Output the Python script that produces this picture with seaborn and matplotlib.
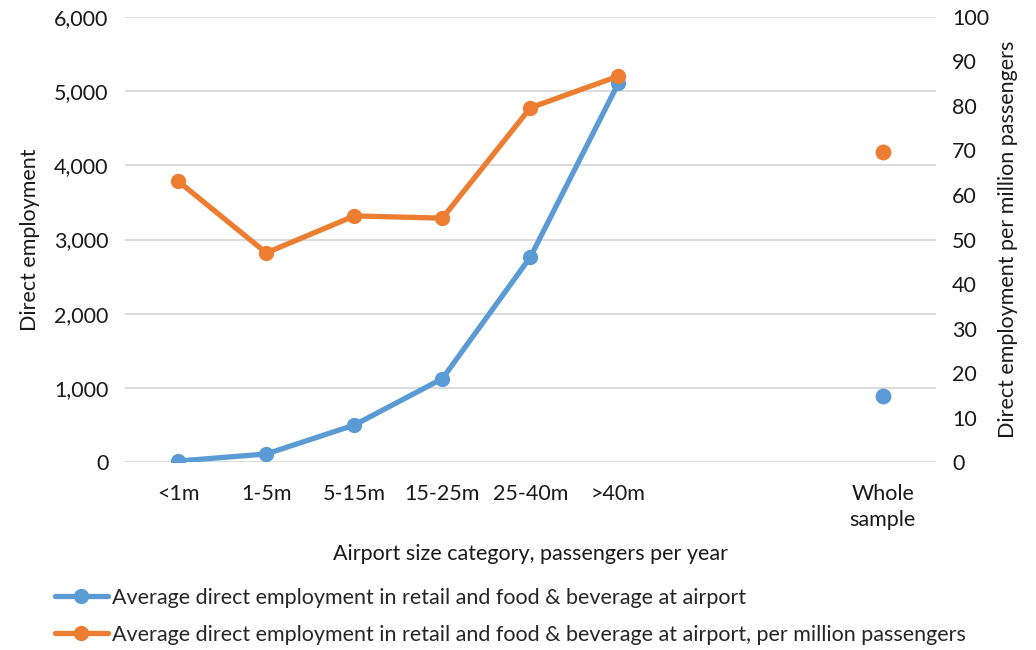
import matplotlib
matplotlib.use("Agg")
import matplotlib.pyplot as plt
import seaborn as sns
import pandas as pd
from matplotlib.lines import Line2D
from matplotlib.ticker import FuncFormatter

# data
categories = ["<1m", "1-5m", "5-15m", "15-25m", "25-40m", ">40m", "", "", "Whole\nsample"]
size_groups = ["<1m", "1-5m", "5-15m", "15-25m", "25-40m", ">40m"]
employment = [15, 110, 500, 1125, 2765, 5110]
per_million = [63.1, 47.0, 55.3, 54.8, 79.6, 86.7]
whole_employment = [885]
whole_per_million = [69.7]

blue = "#5B9BD5"
orange = "#ED7D31"
txt = "#1a1a1a"

sns.set_theme(style="white")
plt.rcParams["font.family"] = ["Lato", "DejaVu Sans"]
fs = 15.5

pos = {c: i for i, c in enumerate(categories)}
df = pd.DataFrame({"x": [pos[c] for c in size_groups],
                   "emp": employment, "pm": per_million})
whole = pd.DataFrame({"x": [pos["Whole\nsample"]],
                      "emp": whole_employment, "pm": whole_per_million})

fig = plt.figure(figsize=(10.36, 6.5), dpi=100)
ax = fig.add_axes([0.121, 0.289, 0.782, 0.685])
ax2 = ax.twinx()

sns.lineplot(data=df, x="x", y="emp", ax=ax, color=blue, lw=3.8,
             marker="o", markersize=11, markeredgewidth=0)
sns.scatterplot(data=whole, x="x", y="emp", ax=ax, color=blue, s=130, linewidth=0)
sns.lineplot(data=df, x="x", y="pm", ax=ax2, color=orange, lw=3.8,
             marker="o", markersize=11, markeredgewidth=0)
sns.scatterplot(data=whole, x="x", y="pm", ax=ax2, color=orange, s=130, linewidth=0)

ax.set_xlim(-0.6, len(categories) - 0.4)
ax.set_ylim(0, 6000)
ax2.set_ylim(0, 100)
ax.set_yticks(range(0, 6001, 1000))
ax2.set_yticks(range(0, 101, 10))
ax.yaxis.set_major_formatter(FuncFormatter(lambda v, p: f"{int(v):,}"))
ax.set_xticks(range(len(categories)))
ax.set_xticklabels(categories, fontsize=fs, color=txt, linespacing=1.35)
ax.tick_params(axis="y", labelsize=fs, labelcolor=txt, length=0, pad=12)
ax2.tick_params(axis="y", labelsize=fs, labelcolor=txt, length=0, pad=12)
ax.tick_params(axis="x", length=0, pad=16)

ax.grid(axis="y", color="#d9d9d9", lw=1.3)
ax.set_axisbelow(True)
for a in (ax, ax2):
    for s in a.spines.values():
        s.set_visible(False)

ax.set_xlabel("Airport size category, passengers per year", fontsize=fs, color=txt, labelpad=10)
ax.set_ylabel("Direct employment", fontsize=fs, color=txt, labelpad=10)
ax2.set_ylabel("Direct employment per million passengers", fontsize=fs, color=txt, labelpad=6)

handles = [
    Line2D([0], [0], color=blue, lw=3.8, marker="o", markersize=11, markeredgewidth=0),
    Line2D([0], [0], color=orange, lw=3.8, marker="o", markersize=11, markeredgewidth=0),
]
labels = [
    "Average direct employment in retail and food & beverage at airport",
    "Average direct employment in retail and food & beverage at airport, per million passengers",
]
fig.legend(handles, labels, loc="upper left", bbox_to_anchor=(0.053, 0.096),
           bbox_transform=fig.transFigure, frameon=False, fontsize=fs,
           handlelength=2.45, handletextpad=0.2, labelspacing=0.8,
           borderaxespad=0, borderpad=0)

fig.savefig("out.png", dpi=100)
